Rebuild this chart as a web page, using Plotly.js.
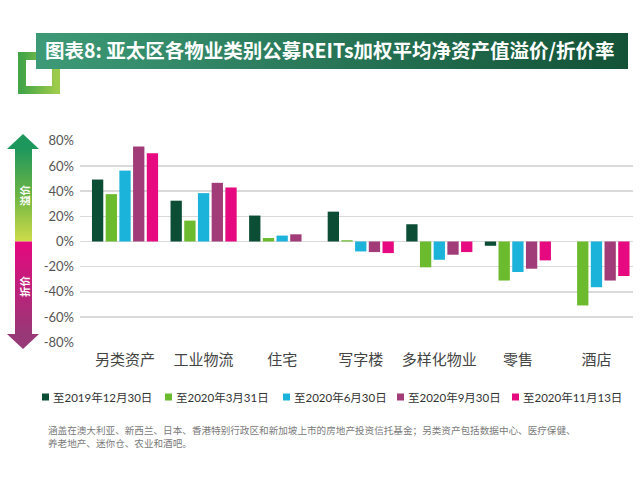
<!DOCTYPE html>
<html>
<head>
<meta charset="utf-8">
<script src="https://cdn.plot.ly/plotly-3.0.1.min.js"></script>
<style>
  html, body { margin: 0; padding: 0; background: #ffffff; }
  #chart { width: 640px; height: 490px; }
</style>
</head>
<body>
<div id="chart"></div>
<script>
// ---------- data ----------
const categories = ["另类资产", "工业物流", "住宅", "写字楼", "多样化物业", "零售", "酒店"];
const seriesNames = ["至2019年12月30日", "至2020年3月31日", "至2020年6月30日", "至2020年9月30日", "至2020年11月13日"];
const dec2019 = [49.2, 32.4, 20.6, 23.7, 13.7, -3.4, null];
const mar2020 = [37.6, 16.6, 2.8, 1.0, -20.5, -31.0, -50.8];
const jun2020 = [56.3, 38.4, 4.7, -7.9, -14.5, -24.2, -36.3];
const sep2020 = [75.5, 46.6, 5.7, -8.4, -10.5, -21.6, -31.0];
const nov2020 = [70.0, 42.9, null, -9.2, -8.4, -15.0, -27.4];
const yTickVals = [-80, -60, -40, -20, 0, 20, 40, 60, 80];
const yTickText = ["-80%", "-60%", "-40%", "-20%", "0%", "20%", "40%", "60%", "80%"];
const titleText = "图表8: 亚太区各物业类别公募REITs加权平均净资产值溢价/折价率";
const premiumLabel = "溢价";
const discountLabel = "折价";
const footnoteLines = [
  "涵盖在澳大利亚、新西兰、日本、香港特别行政区和新加坡上市的房地产投资信托基金；另类资产包括数据中心、医疗保健、",
  "养老地产、迷你仓、农业和酒吧。"
];

// ---------- styling ----------
const seriesValues = [dec2019, mar2020, jun2020, sep2020, nov2020];
const seriesColors = ["#0c4d35", "#6cbb2e", "#1cb3db", "#a13c78", "#e6097f"];
const legendX = [42, 165, 283, 397, 512];   // pixel left of each legend key
const legendY = 397;

const M = {l: 80, r: 7, t: 140, b: 147};
const PW = 640 - M.l - M.r, PH = 490 - M.t - M.b;
const px = v => (v - M.l) / PW;
const py = v => (490 - M.b - v) / PH;

function svgURI(svg) { return "data:image/svg+xml;charset=utf-8," + encodeURIComponent(svg); }

const arrowSvg = `<svg xmlns="http://www.w3.org/2000/svg" width="32" height="215" viewBox="0 0 32 215">
<defs>
<linearGradient id="gu" x1="0" y1="0" x2="0" y2="1">
<stop offset="0" stop-color="#1e975d"/><stop offset="0.5" stop-color="#6cb543"/><stop offset="1" stop-color="#cfdc4a"/>
</linearGradient>
<linearGradient id="gd" x1="0" y1="0" x2="0" y2="1">
<stop offset="0" stop-color="#e5087f"/><stop offset="1" stop-color="#983876"/>
</linearGradient>
</defs>
<polygon points="0,15 16,0 32,15" fill="#1e975d"/>
<rect x="8" y="14.5" width="17" height="93" fill="url(#gu)"/>
<rect x="8" y="107.5" width="17" height="93" fill="url(#gd)"/>
<polygon points="0,200 16,215 32,200" fill="#983876"/>
</svg>`;

const bannerSvg = `<svg xmlns="http://www.w3.org/2000/svg" width="592" height="36" viewBox="0 0 592 36">
<defs><linearGradient id="gb" x1="0" y1="0" x2="1" y2="0">
<stop offset="0" stop-color="#3d9a77"/><stop offset="1" stop-color="#135237"/>
</linearGradient></defs>
<rect x="0" y="0" width="592" height="36" fill="url(#gb)"/>
</svg>`;

const frameSvg = `<svg xmlns="http://www.w3.org/2000/svg" width="42" height="42" viewBox="0 0 42 42">
<defs><linearGradient id="gf" x1="0" y1="0" x2="1" y2="0">
<stop offset="0" stop-color="#43a547"/><stop offset="1" stop-color="#9dcb4b"/>
</linearGradient></defs>
<rect x="4" y="4" width="34" height="34" fill="none" stroke="url(#gf)" stroke-width="8"/>
</svg>`;

const traces = seriesValues.map((vals, i) => ({
  type: "bar",
  name: seriesNames[i],
  x: categories,
  y: vals,
  marker: {color: seriesColors[i], line: {width: 0}},
  showlegend: false,
  hoverinfo: "skip"
}));

const latin = "Lato, 'Noto Sans CJK SC', sans-serif";
const cjk = "'Noto Sans CJK SC', sans-serif";

// legend keys (squares) and labels
const legendShapes = seriesNames.map((n, i) => ({
  type: "rect", xref: "paper", yref: "paper",
  x0: px(legendX[i]), x1: px(legendX[i] + 7),
  y0: py(legendY + 3.5), y1: py(legendY - 3.5),
  fillcolor: seriesColors[i], line: {width: 0}
}));
const legendAnnots = seriesNames.map((n, i) => ({
  text: n, xref: "paper", yref: "paper",
  x: px(legendX[i] + 9), y: py(legendY), xanchor: "left", yanchor: "middle",
  showarrow: false, font: {family: latin, size: 11.5, color: "#333333"}
}));
const footAnnots = footnoteLines.map((t, i) => ({
  text: t, xref: "paper", yref: "paper",
  x: px(46), y: py(430 + i * 12.5), xanchor: "left", yanchor: "middle", align: "left",
  showarrow: false, font: {family: cjk, size: 9.6, color: "#7a7a7a"}
}));

const layout = {
  width: 640, height: 490,
  margin: M,
  paper_bgcolor: "#ffffff",
  plot_bgcolor: "rgba(0,0,0,0)",
  barmode: "group",
  bargap: 0.128,
  bargroupgap: 0.175,
  showlegend: false,
  title: {
    text: "<b>" + titleText + "</b>",
    font: {family: cjk, size: 19.5, color: "#ffffff"},
    xref: "container", yref: "container",
    x: 45 / 640, xanchor: "left",
    y: 1 - 51 / 490, yanchor: "middle"
  },
  xaxis: {
    type: "category",
    range: [-0.573, 6.465],
    showgrid: false, zeroline: false, showline: false,
    ticks: "",
    ticklabelstandoff: 6,
    tickfont: {family: cjk, size: 15, color: "#444444"},
    fixedrange: true
  },
  yaxis: {
    range: [-80.6, 80.6],
    tickvals: yTickVals,
    ticktext: yTickText,
    showgrid: true, gridcolor: "#dadada", gridwidth: 1.5,
    zeroline: true, zerolinecolor: "#dadada", zerolinewidth: 1.5,
    showline: false, ticks: "",
    ticklabelstandoff: 5,
    tickfont: {family: latin, size: 13, color: "#555555"},
    fixedrange: true
  },
  shapes: legendShapes,
  images: [
    {source: svgURI(frameSvg), xref: "paper", yref: "paper", x: px(18), y: py(52), sizex: 42 / PW, sizey: 42 / PH, sizing: "stretch", xanchor: "left", yanchor: "top", layer: "below"},
    {source: svgURI(bannerSvg), xref: "paper", yref: "paper", x: px(36), y: py(33), sizex: 592 / PW, sizey: 36 / PH, sizing: "stretch", xanchor: "left", yanchor: "top", layer: "below"},
    {source: svgURI(arrowSvg), xref: "paper", yref: "paper", x: px(7), y: py(134), sizex: 32 / PW, sizey: 215 / PH, sizing: "stretch", xanchor: "left", yanchor: "top", layer: "below"}
  ],
  annotations: [
    {text: premiumLabel, xref: "paper", yref: "paper", x: px(24), y: py(195), xanchor: "center", yanchor: "middle", showarrow: false, textangle: -90, font: {family: cjk, size: 10.5, color: "#ffffff", weight: "bold"}},
    {text: discountLabel, xref: "paper", yref: "paper", x: px(24), y: py(286), xanchor: "center", yanchor: "middle", showarrow: false, textangle: -90, font: {family: cjk, size: 10.5, color: "#ffffff", weight: "bold"}}
  ].concat(footAnnots, legendAnnots)
};

Plotly.newPlot("chart", traces, layout, {displayModeBar: false, staticPlot: true});
</script>
</body>
</html>
